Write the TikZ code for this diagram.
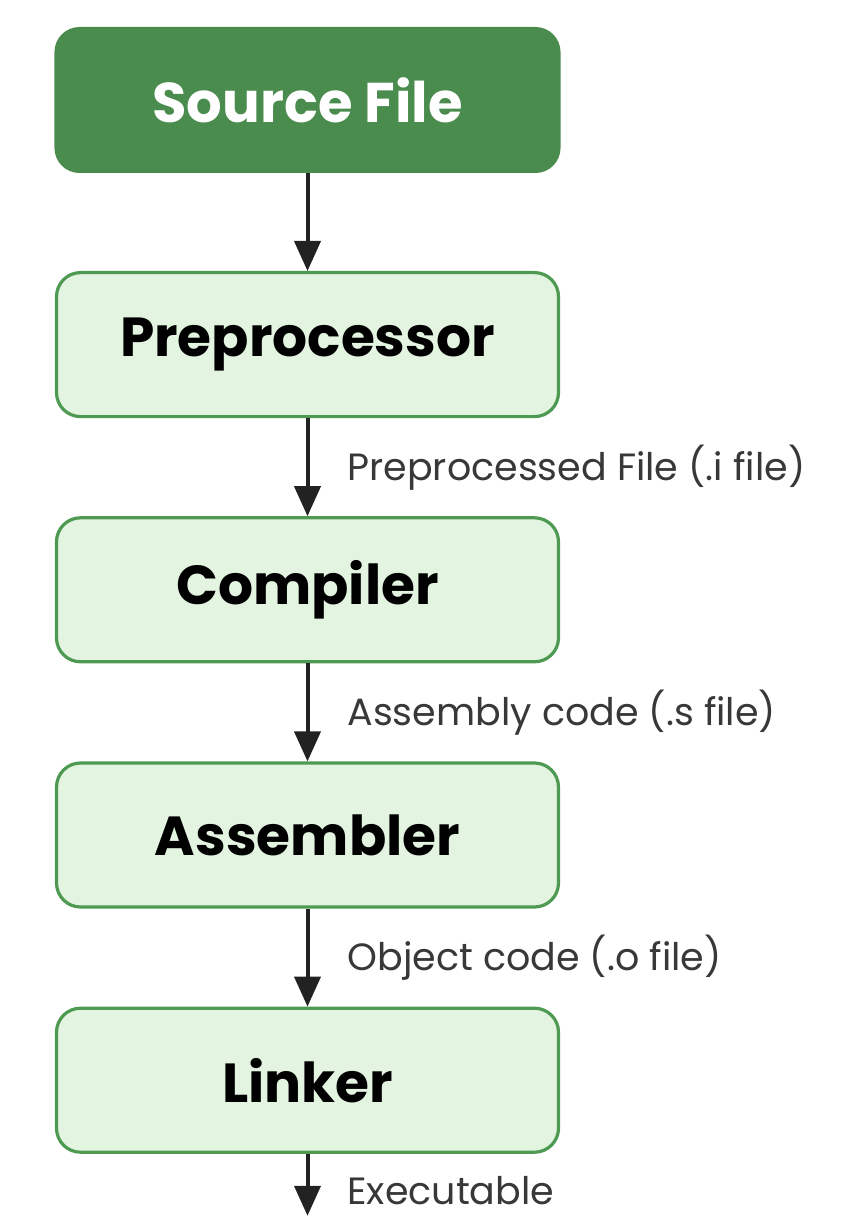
\documentclass[tikz,border=0pt]{standalone}
\usepackage{fontspec}
\setmainfont{Poppins}
\usetikzlibrary{arrows.meta,positioning}
\definecolor{SrcGreen}{HTML}{4A8B4E}
\definecolor{StageFill}{HTML}{E3F4E1}
\definecolor{StageLine}{HTML}{4E9A52}
\definecolor{ArrowDark}{HTML}{222222}
\definecolor{LabelGray}{HTML}{383838}
\tikzset{
  fuente/.style = {draw=SrcGreen, fill=SrcGreen, rounded corners=12pt,
                   text=white, align=center, line width=1pt,
                   font=\bfseries\fontsize{28}{32}\selectfont,
                   minimum width=252pt, minimum height=72pt},
  etapa/.style  = {draw=StageLine, fill=StageFill, rounded corners=12pt,
                   align=center, line width=1.6pt,
                   font=\bfseries\fontsize{27.5}{32}\selectfont,
                   minimum width=251pt, minimum height=72pt},
  flecha/.style = {-{Triangle[length=15pt,width=13pt]}, line width=2pt,
                   draw=ArrowDark},
  lbl/.style    = {right=19pt, text=LabelGray, inner sep=0pt,
                   font=\fontsize{19}{22}\selectfont},
}
\begin{document}
\begin{tikzpicture}[node distance=49pt]
  \useasboundingbox (-153.75pt,50pt) rectangle (269.25pt,-565pt);
  \node[fuente] (src) {Source File};
  \node[etapa, below=of src] (pre) {Preprocessor};
  \node[etapa, below=of pre] (comp) {Compiler};
  \node[etapa, below=of comp] (asm) {Assembler};
  \node[etapa, below=of asm] (lnk) {Linker};
  \coordinate[below=31pt of lnk.south] (fin);
  \draw[flecha] (src) -- (pre);
  \draw[flecha] (pre) -- node[lbl]{Preprocessed File (.i file)} (comp);
  \draw[flecha] (comp) -- node[lbl]{Assembly code (.s file)} (asm);
  \draw[flecha] (asm) -- node[lbl]{Object code (.o file)} (lnk);
  \draw[flecha] (lnk) -- node[lbl, pos=0.6]{Executable} (fin);
\end{tikzpicture}
\end{document}
